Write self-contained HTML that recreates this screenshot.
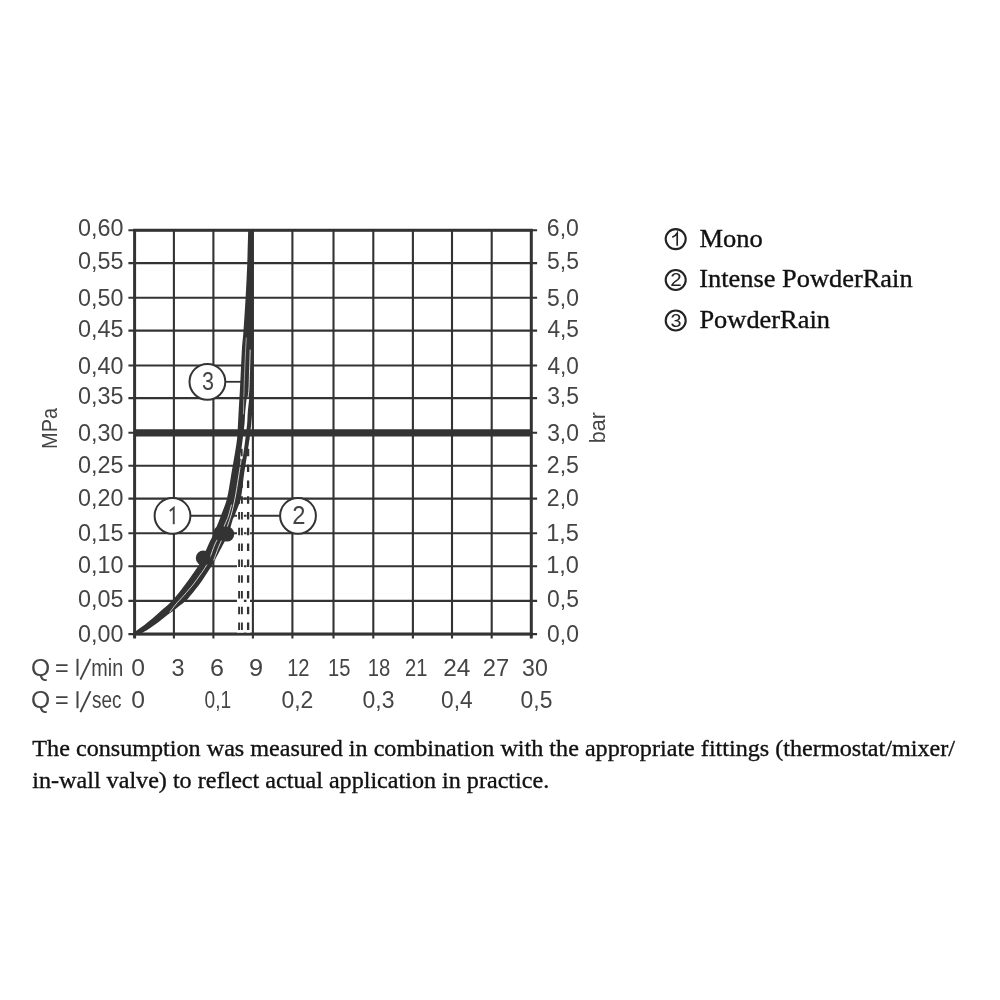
<!DOCTYPE html>
<html lang="en"><head><meta charset="utf-8"><title>Flow diagram</title>
<style>
html,body{margin:0;padding:0;background:#fff;}
body{width:1000px;height:1000px;overflow:hidden;position:relative;font-family:"Liberation Sans",sans-serif;}
svg{position:absolute;left:0;top:0;display:block;will-change:transform;}
.s{font-family:"Liberation Sans",sans-serif;fill:#444444;}
.t{font-family:"Liberation Serif",serif;fill:#111;stroke:#111;stroke-width:0.35px;}
</style></head><body>
<svg width="1000" height="1000" viewBox="0 0 1000 1000">
<rect width="1000" height="1000" fill="#ffffff"/>
<g stroke="#333333" stroke-width="2.1" fill="none">
<line x1="173.9" y1="230.3" x2="173.9" y2="638.6"/>
<line x1="213.4" y1="230.3" x2="213.4" y2="638.6"/>
<line x1="252.9" y1="230.3" x2="252.9" y2="638.6"/>
<line x1="292.4" y1="230.3" x2="292.4" y2="638.6"/>
<line x1="333.5" y1="230.3" x2="333.5" y2="638.6"/>
<line x1="373.3" y1="230.3" x2="373.3" y2="638.6"/>
<line x1="412.9" y1="230.3" x2="412.9" y2="638.6"/>
<line x1="452" y1="230.3" x2="452" y2="638.6"/>
<line x1="491.7" y1="230.3" x2="491.7" y2="638.6"/>
<line x1="128.4" y1="263.1" x2="537.1" y2="263.1"/>
<line x1="128.4" y1="297.7" x2="537.1" y2="297.7"/>
<line x1="128.4" y1="330.6" x2="537.1" y2="330.6"/>
<line x1="128.4" y1="365.5" x2="537.1" y2="365.5"/>
<line x1="128.4" y1="398.1" x2="537.1" y2="398.1"/>
<line x1="128.4" y1="432.8" x2="537.1" y2="432.8"/>
<line x1="128.4" y1="465.8" x2="537.1" y2="465.8"/>
<line x1="128.4" y1="498.6" x2="537.1" y2="498.6"/>
<line x1="128.4" y1="533.2" x2="537.1" y2="533.2"/>
<line x1="128.4" y1="566.3" x2="537.1" y2="566.3"/>
<line x1="128.4" y1="600.9" x2="537.1" y2="600.9"/>
<line x1="128.4" y1="230.3" x2="537.1" y2="230.3"/>
<line x1="128.4" y1="634.1" x2="537.1" y2="634.1"/>
</g>
<g stroke="#333333" stroke-width="3" fill="none">
<line x1="133.1" y1="230.3" x2="532.8" y2="230.3"/>
<line x1="133.1" y1="634.1" x2="532.8" y2="634.1"/>
<line x1="134.6" y1="230.3" x2="134.6" y2="638.5"/>
<line x1="531.3" y1="230.3" x2="531.3" y2="638.5"/>
</g>
<line x1="190" y1="515.8" x2="281" y2="515.8" stroke="#333333" stroke-width="1.9"/>
<line x1="225" y1="381.8" x2="241" y2="381.8" stroke="#333333" stroke-width="1.8"/>
<rect x="237" y="437" width="6.9" height="195.6" fill="#fff"/>
<rect x="246.5" y="437" width="3.5" height="195.6" fill="#fff"/>
<line x1="239.1" y1="433" x2="239.1" y2="633" stroke="#333333" stroke-width="1.9" stroke-dasharray="7.5 8.3"/>
<line x1="241.9" y1="433" x2="241.9" y2="633" stroke="#333333" stroke-width="1.9" stroke-dasharray="7.5 8.3"/>
<line x1="248.1" y1="433" x2="248.1" y2="633" stroke="#333333" stroke-width="2.3" stroke-dasharray="7.5 8.3"/>
<path d="M133.6 634.6 C133.92 634.08 133.93 632.93 135.5 631.5 C137.07 630.07 140.92 627.58 143 626 C145.08 624.42 146.33 623.33 148 622 C149.67 620.67 151.33 619.42 153 618 C154.67 616.58 156.33 615 158 613.5 C159.67 612 161.37 610.42 163 609 C164.63 607.58 166.3 606.38 167.8 605 C169.3 603.62 170.47 602.42 172 600.75 C173.53 599.08 175.5 596.79 177 595 C178.5 593.21 179.71 591.67 181 590 C182.29 588.33 183.5 586.67 184.75 585 C186 583.33 187.29 581.67 188.5 580 C189.71 578.33 190.83 576.67 192 575 C193.17 573.33 194.47 571.5 195.5 570 C196.53 568.5 197.03 568 198.2 566 C199.37 564 200.75 561.67 202.5 558 C204.25 554.33 206.78 548.17 208.7 544 C210.62 539.83 212.23 537 214 533 C215.77 529 218.17 522.83 219.3 520 C220.43 517.17 219.52 519.6 220.8 516 C222.08 512.4 225.3 505.07 227 498.4 C228.7 491.73 229.43 485.07 231 476 C232.57 466.93 235.32 451.2 236.4 444 C237.48 436.8 237.13 438.13 237.5 432.8 C237.87 427.47 238.18 419.47 238.6 412 C239.02 404.53 239.58 395.73 240 388 C240.42 380.27 240.77 372.27 241.1 365.6 C241.43 358.93 241.6 353.83 242 348 C242.4 342.17 242.9 338.97 243.5 330.6 C244.1 322.23 244.98 308.73 245.6 297.8 C246.22 286.87 246.77 276.27 247.2 265 C247.63 253.73 248.03 236 248.2 230.2 L253.4 230.2 C253.4 246.83 253.47 302.53 253.4 330 C253.33 357.47 253.2 381.33 253 395 C252.8 408.67 252.5 407.17 252.2 412 C251.9 416.83 251.53 420.53 251.2 424 C250.87 427.47 250.6 429.47 250.2 432.8 C249.8 436.13 249.87 436.8 248.8 444 C247.73 451.2 245.13 466.93 243.8 476 C242.47 485.07 242.37 491.73 240.8 498.4 C239.23 505.07 235.77 512.4 234.4 516 C233.03 519.6 233.53 517.17 232.6 520 C231.67 522.83 230.33 529 228.8 533 C227.27 537 225.7 539.5 223.4 544 C221.1 548.5 216.98 556.29 215 560 C213.02 563.71 212.5 564.58 211.5 566.25 C210.5 567.92 209.96 568.54 209 570 C208.04 571.46 206.83 573.33 205.75 575 C204.67 576.67 203.62 578.33 202.5 580 C201.38 581.67 200.25 583.33 199 585 C197.75 586.67 196.33 588.33 195 590 C193.67 591.67 192.5 593.21 191 595 C189.5 596.79 188.17 598.75 186 600.75 C183.83 602.75 180.17 605.29 178 607 C175.83 608.71 174.67 609.75 173 611 C171.33 612.25 169.67 613.25 168 614.5 C166.33 615.75 164.67 617.17 163 618.5 C161.33 619.83 159.67 621.25 158 622.5 C156.33 623.75 154.67 624.83 153 626 C151.33 627.17 149.83 628.33 148 629.5 C146.17 630.67 143.58 632.15 142 633 C140.42 633.85 139.08 634.33 138.5 634.6 Z" fill="#333333" stroke="none"/>
<path d="M170 612 C170.88 610.83 173.75 606.88 175.25 605 C176.75 603.12 177.5 602.42 179 600.75 C180.5 599.08 182.67 596.79 184.25 595 C185.83 593.21 187.08 591.67 188.5 590 C189.92 588.33 191.42 586.67 192.75 585 C194.08 583.33 195.29 581.67 196.5 580 C197.71 578.33 198.83 576.67 200 575 C201.17 573.33 202.5 571.5 203.5 570 C204.5 568.5 204.95 568 206 566 C207.05 564 208.3 561.67 209.8 558 C211.3 554.33 213.13 548.17 215 544 C216.87 539.83 219.03 537 221 533 C222.97 529 225.57 522.83 226.8 520 C228.03 517.17 227.63 518.5 228.4 516 C229.17 513.5 230.9 506.83 231.4 505" fill="none" stroke="#fff" stroke-width="0.9" stroke-opacity="0.85" stroke-linecap="round"/>
<path d="M213.8 560 C214.67 557.67 217.17 550.5 219 546 C220.83 541.5 222.83 538 224.8 533 C226.77 528 229.1 521.77 230.8 516 C232.5 510.23 233.68 505.07 235 498.4 C236.32 491.73 237.63 482.73 238.7 476 C239.77 469.27 240.95 461 241.4 458" fill="none" stroke="#fff" stroke-width="1.0" stroke-opacity="0.8" stroke-linecap="round"/>
<path d="M241.4 458 C241.73 455.67 242.67 449.67 243.4 444 C244.13 438.33 245.28 429.33 245.8 424 C246.32 418.67 246.13 416.33 246.5 412 C246.87 407.67 247.75 400.33 248 398" fill="none" stroke="#fff" stroke-width="2.6" stroke-opacity="1" stroke-linecap="round"/>
<path d="M248 398 C248.17 396.33 248.72 393.4 249 388 C249.28 382.6 249.5 371.93 249.7 365.6 C249.9 359.27 250.12 352.6 250.2 350" fill="none" stroke="#fff" stroke-width="1.0" stroke-opacity="0.85" stroke-linecap="round"/>
<path d="M243.4 414 C243.52 409.67 243.85 396.07 244.1 388 C244.35 379.93 244.63 372.27 244.9 365.6 C245.17 358.93 245.47 352.6 245.7 348 C245.93 343.4 246.2 339.67 246.3 338" fill="none" stroke="#fff" stroke-width="0.8" stroke-opacity="0.7" stroke-linecap="round"/>
<line x1="241.8" y1="448.8" x2="241.8" y2="456.3" stroke="#333333" stroke-width="1.7"/>
<line x1="134.6" y1="432.8" x2="531.3" y2="432.8" stroke="#333333" stroke-width="7.2"/>
<line x1="236" y1="398.1" x2="253" y2="398.1" stroke="#333333" stroke-width="2"/>
<line x1="236" y1="465.8" x2="253" y2="465.8" stroke="#333333" stroke-width="2"/>
<line x1="236" y1="498.6" x2="253" y2="498.6" stroke="#333333" stroke-width="2"/>
<circle cx="203.3" cy="558" r="7.5" fill="#333333"/>
<circle cx="220.6" cy="533.3" r="7.5" fill="#333333"/>
<circle cx="226.8" cy="534.1" r="7.5" fill="#333333"/>
<circle cx="172.5" cy="515.8" r="17.9" fill="#fff" stroke="#333333" stroke-width="2"/>
<path d="M169.8 511 L173.75 507.7 L173.75 524.3" fill="none" stroke="#444444" stroke-width="1.9" stroke-linejoin="miter"/>
<circle cx="298" cy="515.8" r="17.9" fill="#fff" stroke="#333333" stroke-width="2"/>
<text class="s" x="292.31" y="524.4" font-size="25" textLength="13.18" lengthAdjust="spacingAndGlyphs">2</text>
<circle cx="207.4" cy="381.8" r="17.9" fill="#fff" stroke="#333333" stroke-width="2"/>
<text class="s" x="201.98" y="390.4" font-size="25" textLength="11.96" lengthAdjust="spacingAndGlyphs">3</text>
<text class="s" x="78.09" y="235.9" font-size="23" textLength="45.42" lengthAdjust="spacingAndGlyphs">0,60</text>
<text class="s" x="546.83" y="235.9" font-size="23" textLength="32.07" lengthAdjust="spacingAndGlyphs">6,0</text>
<text class="s" x="78.09" y="269.4" font-size="23" textLength="45.49" lengthAdjust="spacingAndGlyphs">0,55</text>
<text class="s" x="547.08" y="269.4" font-size="23" textLength="31.88" lengthAdjust="spacingAndGlyphs">5,5</text>
<text class="s" x="78.09" y="305.8" font-size="23" textLength="45.42" lengthAdjust="spacingAndGlyphs">0,50</text>
<text class="s" x="547.08" y="305.8" font-size="23" textLength="31.81" lengthAdjust="spacingAndGlyphs">5,0</text>
<text class="s" x="78.09" y="337.4" font-size="23" textLength="45.49" lengthAdjust="spacingAndGlyphs">0,45</text>
<text class="s" x="547.48" y="337.4" font-size="23" textLength="31.47" lengthAdjust="spacingAndGlyphs">4,5</text>
<text class="s" x="78.09" y="373.8" font-size="23" textLength="45.42" lengthAdjust="spacingAndGlyphs">0,40</text>
<text class="s" x="547.48" y="373.8" font-size="23" textLength="31.4" lengthAdjust="spacingAndGlyphs">4,0</text>
<text class="s" x="78.09" y="404.4" font-size="23" textLength="45.49" lengthAdjust="spacingAndGlyphs">0,35</text>
<text class="s" x="547.13" y="404.4" font-size="23" textLength="31.83" lengthAdjust="spacingAndGlyphs">3,5</text>
<text class="s" x="78.09" y="440.8" font-size="23" textLength="45.42" lengthAdjust="spacingAndGlyphs">0,30</text>
<text class="s" x="547.13" y="440.8" font-size="23" textLength="31.76" lengthAdjust="spacingAndGlyphs">3,0</text>
<text class="s" x="78.09" y="472.6" font-size="23" textLength="45.49" lengthAdjust="spacingAndGlyphs">0,25</text>
<text class="s" x="546.84" y="472.6" font-size="23" textLength="32.13" lengthAdjust="spacingAndGlyphs">2,5</text>
<text class="s" x="78.09" y="506.1" font-size="23" textLength="45.42" lengthAdjust="spacingAndGlyphs">0,20</text>
<text class="s" x="546.84" y="506.1" font-size="23" textLength="32.06" lengthAdjust="spacingAndGlyphs">2,0</text>
<text class="s" x="78.09" y="540.8" font-size="23" textLength="45.49" lengthAdjust="spacingAndGlyphs">0,15</text>
<text class="s" x="546.2" y="540.8" font-size="23" textLength="32.79" lengthAdjust="spacingAndGlyphs">1,5</text>
<text class="s" x="78.09" y="572.9" font-size="23" textLength="45.42" lengthAdjust="spacingAndGlyphs">0,10</text>
<text class="s" x="546.21" y="572.9" font-size="23" textLength="32.71" lengthAdjust="spacingAndGlyphs">1,0</text>
<text class="s" x="78.09" y="606.5" font-size="23" textLength="45.49" lengthAdjust="spacingAndGlyphs">0,05</text>
<text class="s" x="547.1" y="606.5" font-size="23" textLength="31.86" lengthAdjust="spacingAndGlyphs">0,5</text>
<text class="s" x="78.09" y="642" font-size="23" textLength="45.42" lengthAdjust="spacingAndGlyphs">0,00</text>
<text class="s" x="547.11" y="642" font-size="23" textLength="31.79" lengthAdjust="spacingAndGlyphs">0,0</text>
<text class="s" x="131.34" y="675.8" font-size="23" textLength="13.73" lengthAdjust="spacingAndGlyphs">0</text>
<text class="s" x="171.41" y="675.8" font-size="23" textLength="13.02" lengthAdjust="spacingAndGlyphs">3</text>
<text class="s" x="209.92" y="675.8" font-size="23" textLength="13.98" lengthAdjust="spacingAndGlyphs">6</text>
<text class="s" x="249.01" y="675.8" font-size="23" textLength="14.09" lengthAdjust="spacingAndGlyphs">9</text>
<text class="s" x="287.17" y="675.8" font-size="23" textLength="22.34" lengthAdjust="spacingAndGlyphs">12</text>
<text class="s" x="328.07" y="675.8" font-size="23" textLength="22.38" lengthAdjust="spacingAndGlyphs">15</text>
<text class="s" x="367.86" y="675.8" font-size="23" textLength="22.52" lengthAdjust="spacingAndGlyphs">18</text>
<text class="s" x="404.99" y="675.8" font-size="23" textLength="22.4" lengthAdjust="spacingAndGlyphs">21</text>
<text class="s" x="443.17" y="675.8" font-size="23" textLength="27.14" lengthAdjust="spacingAndGlyphs">24</text>
<text class="s" x="482.81" y="675.8" font-size="23" textLength="26.39" lengthAdjust="spacingAndGlyphs">27</text>
<text class="s" x="522.12" y="675.8" font-size="23" textLength="25.79" lengthAdjust="spacingAndGlyphs">30</text>
<text class="s" x="131.34" y="708.2" font-size="23" textLength="13.73" lengthAdjust="spacingAndGlyphs">0</text>
<text class="s" x="204.55" y="708.2" font-size="23" textLength="26.58" lengthAdjust="spacingAndGlyphs">0,1</text>
<text class="s" x="281.4" y="708.2" font-size="23" textLength="31.95" lengthAdjust="spacingAndGlyphs">0,2</text>
<text class="s" x="362.5" y="708.2" font-size="23" textLength="31.91" lengthAdjust="spacingAndGlyphs">0,3</text>
<text class="s" x="441.11" y="708.2" font-size="23" textLength="31.55" lengthAdjust="spacingAndGlyphs">0,4</text>
<text class="s" x="520.6" y="708.2" font-size="23" textLength="31.86" lengthAdjust="spacingAndGlyphs">0,5</text>
<text class="s" x="31.03" y="675.8" font-size="23" textLength="19.14" lengthAdjust="spacingAndGlyphs">Q</text>
<text class="s" x="55.05" y="675.8" font-size="23" textLength="13.7" lengthAdjust="spacingAndGlyphs">=</text>
<line x1="77.5" y1="658.8" x2="77.5" y2="675.8" stroke="#444444" stroke-width="2"/>
<line x1="80.4" y1="679.7" x2="90.5" y2="658.8" stroke="#444444" stroke-width="1.9"/>
<text class="s" x="91.29" y="675.8" font-size="23" textLength="31.9" lengthAdjust="spacingAndGlyphs">min</text>
<text class="s" x="31.03" y="708.2" font-size="23" textLength="19.14" lengthAdjust="spacingAndGlyphs">Q</text>
<text class="s" x="55.05" y="708.2" font-size="23" textLength="13.7" lengthAdjust="spacingAndGlyphs">=</text>
<line x1="77.5" y1="691.2" x2="77.5" y2="708.2" stroke="#444444" stroke-width="2"/>
<line x1="80.4" y1="712.1" x2="90.5" y2="691.2" stroke="#444444" stroke-width="1.9"/>
<text class="s" x="92.07" y="708.2" font-size="23" textLength="29.42" lengthAdjust="spacingAndGlyphs">sec</text>
<text class="s" transform="translate(56.5 447.3) rotate(-90)" x="-1.63" y="0" font-size="22" textLength="40.93" lengthAdjust="spacingAndGlyphs">MPa</text>
<text class="s" transform="translate(605.1 441.9) rotate(-90)" x="-1.39" y="0" font-size="22.5" textLength="31.25" lengthAdjust="spacingAndGlyphs">bar</text>
<circle cx="675.7" cy="239.1" r="10" fill="none" stroke="#222" stroke-width="2.1"/>
<path d="M672.3 237.3 C674.6 236.3 676.3 234.8 677.2 233.2 L677.2 245.7" fill="none" stroke="#222" stroke-width="1.7" stroke-linejoin="miter"/>
<text class="t" x="699.44" y="246.6" font-size="25.6" textLength="63.37" lengthAdjust="spacingAndGlyphs">Mono</text>
<circle cx="675.7" cy="280" r="10" fill="none" stroke="#222" stroke-width="2.1"/>
<text x="670.16" y="286.4" font-size="17.5" textLength="11.48" lengthAdjust="spacingAndGlyphs" style="font-family:'Liberation Sans',sans-serif;fill:#222">2</text>
<text class="t" x="699.25" y="287.1" font-size="25.6" textLength="213.35" lengthAdjust="spacingAndGlyphs">Intense PowderRain</text>
<circle cx="675.7" cy="320.5" r="10" fill="none" stroke="#222" stroke-width="2.1"/>
<text x="670.44" y="326.9" font-size="17.5" textLength="11.03" lengthAdjust="spacingAndGlyphs" style="font-family:'Liberation Sans',sans-serif;fill:#222">3</text>
<text class="t" x="699.44" y="327.6" font-size="25.6" textLength="130.56" lengthAdjust="spacingAndGlyphs">PowderRain</text>
<text class="t" x="32.36" y="756.2" font-size="24" textLength="922.64" lengthAdjust="spacingAndGlyphs">The consumption was measured in combination with the appropriate fittings (thermostat/mixer/</text>
<text class="t" x="32.29" y="788.1" font-size="24" textLength="516.9" lengthAdjust="spacingAndGlyphs">in-wall valve) to reflect actual application in practice.</text>
</svg></body></html>
